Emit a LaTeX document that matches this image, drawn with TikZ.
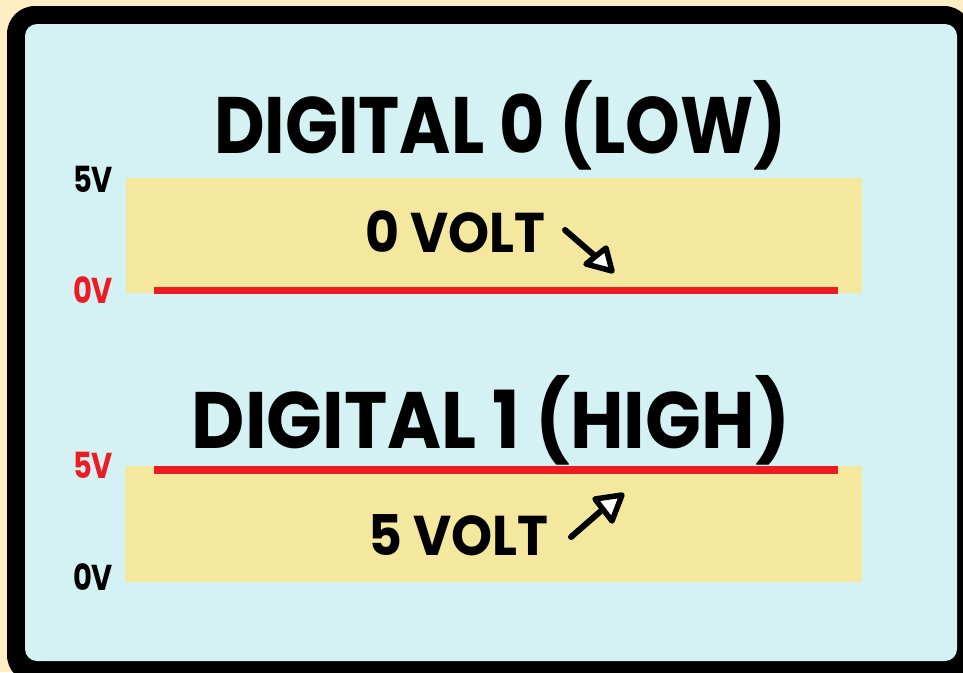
\documentclass[tikz,border=0pt]{standalone}
\usepackage{fontspec}
\usepackage{graphicx}
\setmainfont{Poppins}
\definecolor{cream}{HTML}{FFEDC4}
\definecolor{cyanbg}{HTML}{D4F2F4}
\definecolor{band}{HTML}{F3E89D}
\definecolor{redline}{HTML}{ED1C24}
\tikzset{
  txt/.style={anchor=base, inner sep=0pt, font=\bfseries},
  level/.style={redline, line width=7.5pt},
  shaft/.style={line width=6pt, line cap=round},
  head/.style={draw=black, fill=white, line width=5.5pt, line join=round},
}
\newcommand\fitw[2]{\resizebox{#1}{\height}{#2}}
\begin{document}
\begin{tikzpicture}[x=1pt,y=-1pt]
\fill[cream] (0,0) rectangle (963,672);
\useasboundingbox (0,0) rectangle (963,672);
\fill[black, rounded corners=28pt] (7,6) rectangle (972,683);
\fill[cyanbg, rounded corners=12pt] (25,24) rectangle (957,661);
% top panel
\node[txt, font=\fontsize{80}{80}\selectfont\bfseries] (t1) at (500.5,153) {\fitw{573pt}{DIGITAL 0 (LOW)}};
\fill[band] (126,178) rectangle (862,293);
\coordinate (r1a) at (154,290.5);
\coordinate (r1b) at (838,290.5);
\draw[level] (r1a) -- (r1b);
\node[txt, font=\fontsize{36}{36}\selectfont\bfseries] (l5a) at (93,192) {\fitw{40pt}{5V}};
\node[txt, text=redline, font=\fontsize{36}{36}\selectfont\bfseries] (l0a) at (93,303) {\fitw{40pt}{0V}};
\node[txt, font=\fontsize{56}{56}\selectfont\bfseries] (v0) at (455,252) {\fitw{180pt}{0 VOLT}};
\coordinate (a1s) at (565,230);
\coordinate (a1b) at (595,256);
\coordinate (a1p) at (586,264);
\coordinate (a1t) at (612,271);
\coordinate (a1q) at (606,248);
\draw[shaft] (a1s) -- (a1b);
\draw[head] (a1p) -- (a1t) -- (a1q) -- cycle;
% bottom panel
\node[txt, font=\fontsize{80}{80}\selectfont\bfseries] (t2) at (491,448) {\fitw{598pt}{DIGITAL 1 (HIGH)}};
\fill[band] (125,466) rectangle (862,582);
\coordinate (r2a) at (154,470);
\coordinate (r2b) at (838,470);
\draw[level] (r2a) -- (r2b);
\node[txt, text=redline, font=\fontsize{36}{36}\selectfont\bfseries] (l5b) at (93,478) {\fitw{40pt}{5V}};
\node[txt, font=\fontsize{36}{36}\selectfont\bfseries] (l0b) at (93,590) {\fitw{40pt}{0V}};
\node[txt, font=\fontsize{56}{56}\selectfont\bfseries] (v5) at (458,555) {\fitw{180pt}{5 VOLT}};
\coordinate (a2s) at (571,537);
\coordinate (a2b) at (602,510);
\coordinate (a2p) at (595,499);
\coordinate (a2t) at (622,495);
\coordinate (a2q) at (612,521);
\draw[shaft] (a2s) -- (a2b);
\draw[head] (a2p) -- (a2t) -- (a2q) -- cycle;
\end{tikzpicture}
\end{document}
